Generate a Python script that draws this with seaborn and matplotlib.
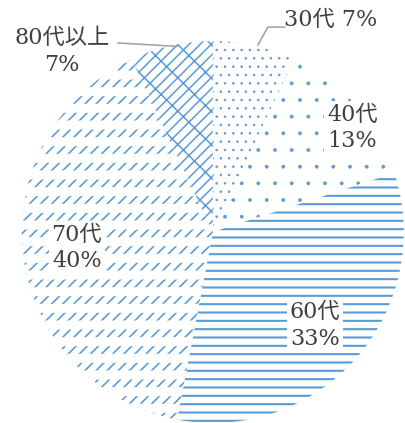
import matplotlib
matplotlib.use('Agg')
import matplotlib.pyplot as plt
import seaborn as sns

# data
groups = ['30代', '40代', '60代', '70代', '80代以上']
shares = [7, 13, 33, 40, 7]
hatches = ['..', '.', '--', '///', '///\\']
hatch_widths = [0.6, 0.3, 1.5, 1.2, 1.1]

sns.set_theme(style='white')
plt.rcParams['font.family'] = ['DejaVu Serif', 'Noto Sans CJK JP']

blue = '#5B9BD5'
text_col = '#404040'

fig = plt.figure(figsize=(4.05, 4.23), dpi=100)
ax = fig.add_axes([0.054, 0.0, 0.943, 0.903])

wedges, _ = ax.pie(shares, startangle=90, counterclock=False, radius=1,
                   wedgeprops=dict(facecolor='white', edgecolor=blue, linewidth=0))
for w, h, lw in zip(wedges, hatches, hatch_widths):
    w.set_hatch(h)
    w.set_hatch_linewidth(lw)

# white horizontal stripes over 70代 to break diagonals into dashes
over, _ = ax.pie(shares, startangle=90, counterclock=False, radius=1,
                 wedgeprops=dict(facecolor='none', edgecolor='white', linewidth=0))
for i, w in enumerate(over):
    if groups[i] == '70代':
        w.set_hatch('-')
        w.set_hatch_linewidth(6.5)
    else:
        w.set_visible(False)

ax.set_xlim(-1, 1)
ax.set_ylim(-1, 1)
ax.set_aspect('equal')
ax.axis('off')

box = dict(facecolor='white', edgecolor='none', pad=2)

# inside labels
inside = {1: (0.73, 0.545), 2: (0.534, -0.49), 3: (-0.712, -0.085)}
for i, (x, y) in inside.items():
    ax.text(x, y, f'{groups[i]}\n{shares[i]}%', ha='center', va='center',
            fontsize=16, color=text_col, bbox=box, linespacing=1.25, zorder=5)

# outside labels with leader lines
ax.text(0.618, 1.11, f'{groups[0]} {shares[0]}%', ha='center', va='center',
        fontsize=16, color=text_col, clip_on=False)
ax.plot([0.236, 0.288, 0.377], [0.979, 1.073, 1.073], color='#a6a6a6', lw=1.2, clip_on=False)

ax.text(-0.79, 0.945, f'{groups[4]}\n{shares[4]}%', ha='center', va='center',
        fontsize=16, color=text_col, clip_on=False, linespacing=1.25)
ax.plot([-0.497, -0.183], [0.99, 0.972], color='#a6a6a6', lw=1.2, clip_on=False)

fig.savefig('out.png', dpi=100)
